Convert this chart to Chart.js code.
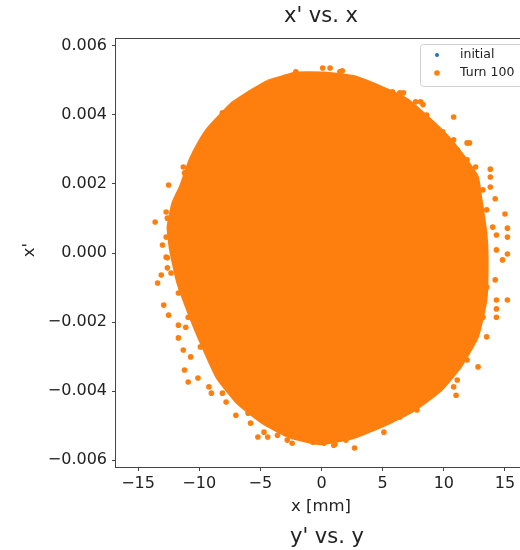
<!DOCTYPE html>
<html>
<head>
<meta charset="utf-8">
<script src="https://cdn.jsdelivr.net/npm/chart.js@4/dist/chart.umd.min.js"></script>
<style>
  html, body { margin: 0; padding: 0; overflow: hidden; background: #fff; }
  canvas { display: block; }
</style>
</head>
<body>
<canvas id="myChart" width="540" height="550"></canvas>
<script>
let xTicks = [-15, -10, -5, 0, 5, 10, 15];
let yTicks = [-0.006, -0.004, -0.002, 0, 0.002, 0.004, 0.006];

// blue "initial" markers are fully hidden under the orange cloud
let initialX = [];
let initialY = [];

// dense core of the Turn 100 cloud (outline)
let coreX = [-4.4, -2.1, 0.2, 2.6, 4.8, 7.0, 8.6, 10.3, 11.6, 12.7, 13.0, 13.4, 13.5, 13.4, 12.7, 11.3, 9.7, 7.5, 5.4, 2.6, -0.1, -2.5, -4.7, -6.8, -8.5, -9.9, -10.9, -11.7, -12.3, -12.5, -12.1, -11.5, -10.7, -10.0, -9.2, -7.4, -5.8];
let coreY = [0.00496, 0.0052, 0.0052, 0.0051, 0.0048, 0.00443, 0.00394, 0.00336, 0.00278, 0.0022, 0.00154, 0.00058, -0.0002, -0.00136, -0.00243, -0.0033, -0.00397, -0.00455, -0.00493, -0.00533, -0.00551, -0.00533, -0.00493, -0.00435, -0.0036, -0.00252, -0.00165, -0.00087, 0.00009, 0.00075, 0.00145, 0.00191, 0.0027, 0.00319, 0.00362, 0.00429, 0.00467];

// loose particles around the edge
let haloX = [-13.6, -12.7, -13.0, -12.6, -12.6, -13.4, -12.9, -12.5, -11.7, -11.1, 13.8, 13.8, 14.2, 15.0, 15.2, 15.2, 14.3, 14.3, 14.8, 15.2, 15.2, 14.3, 14.3, 14.3, 12.8, -2.1, 0.1, 1.7, 6.4, 8.3, 10.8, 7.7, -8.0, 12.1, -12.5, -11.3, -8.1, -2.4, -0.7, 0.2, 1.1, 2.7, 2.0, -10.9, -10.1, -9.0, -7.0, -5.2, -4.4, 11.0, 1.0,
  -12.7, -13.1, -12.3, -11.7, -10.9, -11.7, -11.3, -10.7, -9.9, -11.2, -9.2, -8.1, -7.8, -6.0, -5.8, -4.7, -3.6, -2.8,
  8.1, 8.6, 9.3, 9.9, 10.8, 11.9, 11.1, 11.9, 12.6, 13.2, 13.8, 13.5, 14.0, 6.7, 5.8, 3.4, 1.5, 0.7,
  -5.8, -8.1, -8.4, -10.5, -11.2, -11.7, -12.6, -12.7,
  14.2, 13.5, 13.2, 13.5, 11.9, 11.1, 10.8, 9.5, 7.8, 6.4, 5.1, 3.4, 1.5];
let haloY = [0.0009, 0.00119, 0.00023, -0.00014, -0.00043, -0.00087, -0.00151, -0.0018, -0.00209, -0.00215, 0.00243, 0.0022, 0.00157, 0.00113, 0.00072, 0.00046, 0.00052, 0.00009, -0.0002, -0.00003, -0.00136, -0.00136, -0.00162, -0.00186, -0.0033, 0.00525, 0.00536, 0.00528, 0.00464, 0.0043, 0.00394, 0.00438, 0.004, 0.00319, 0.00197, 0.00249, 0.00406, -0.00551, -0.00548, -0.00551, -0.00554, -0.00565, -0.00542, -0.00374, -0.00362, -0.00406, -0.0047, -0.00533, -0.00533, -0.00412, -0.00557,
  -0.00012, -0.00064, -0.00058, -0.00116, -0.00186, -0.00246, -0.00281, -0.00301, -0.00272, -0.00339, -0.00388, -0.00406, -0.00432, -0.00464, -0.00493, -0.00519, -0.00528, -0.00542,
  0.00438, 0.004, 0.00365, 0.00351, 0.00328, 0.00319, 0.00299, 0.0027, 0.00249, 0.00183, 0.00191, 0.00125, 0.00075, 0.00464, 0.00467, 0.00487, 0.00525, 0.00536,
  0.00464, 0.00394, 0.00386, 0.0027, 0.00232, 0.00168, 0.00101, 0.00046,
  -0.00078, -0.00099, -0.00186, -0.00243, -0.0031, -0.00368, -0.00388, -0.00397, -0.00455, -0.00475, -0.00519, -0.00504, -0.00533];

let blue = '#1f77b4';
let orange = '#ff7f0e';
let font = 'DejaVu Sans';

function pts(xs, ys) {
  return xs.map((x, i) => ({ x: x, y: ys[i] }));
}
let corePts = pts(coreX, coreY);
corePts.push(corePts[0]);

let decor = {
  id: 'decor',
  afterDatasetsDraw(chart) {
    let ctx = chart.ctx;
    let a = chart.chartArea;
    ctx.save();
    // frame
    ctx.strokeStyle = '#444';
    ctx.lineWidth = 1;
    ctx.strokeRect(a.left - 0.5, a.top - 0.5, a.right - a.left + 1, a.bottom - a.top + 1);
    // legend box
    ctx.fillStyle = 'rgba(255,255,255,0.8)';
    ctx.strokeStyle = '#d0d0d0';
    ctx.beginPath();
    ctx.roundRect(420.5, 44.5, 105, 42, 3);
    ctx.fill();
    ctx.stroke();
    ctx.fillStyle = blue;
    ctx.beginPath(); ctx.arc(437, 55, 2, 0, Math.PI * 2); ctx.fill();
    ctx.fillStyle = orange;
    ctx.beginPath(); ctx.arc(437, 73, 2.8, 0, Math.PI * 2); ctx.fill();
    ctx.fillStyle = '#222';
    ctx.font = '12.5px "' + font + '"';
    ctx.textAlign = 'left';
    ctx.textBaseline = 'middle';
    ctx.fillText('initial', 460, 55);
    ctx.fillText('Turn 100', 460, 73);
    // titles and axis labels
    ctx.textAlign = 'center';
    ctx.font = '21px "' + font + '"';
    ctx.fillText("x' vs. x", 321, 17);
    ctx.textBaseline = 'alphabetic';
    ctx.fillText("y' vs. y", 327, 543);
    ctx.textBaseline = 'middle';
    ctx.font = '16.5px "' + font + '"';
    ctx.fillText('x [mm]', 321, 507);
    ctx.translate(30, 250);
    ctx.rotate(-Math.PI / 2);
    ctx.fillText("x'", 0, 0);
    ctx.restore();
  }
};

let ctx1 = document.getElementById('myChart').getContext('2d');
let myChart = new Chart(ctx1, {
  type: 'scatter',
  data: {
    datasets: [
      {
        label: 'initial',
        data: pts(initialX, initialY),
        backgroundColor: blue,
        pointRadius: 2,
        borderWidth: 0
      },
      {
        label: 'Turn 100 core',
        data: corePts,
        showLine: true,
        fill: 'shape',
        backgroundColor: orange,
        borderColor: orange,
        borderWidth: 4,
        borderJoinStyle: 'round',
        pointRadius: 0,
        tension: 0.15
      },
      {
        label: 'Turn 100',
        data: pts(haloX, haloY),
        backgroundColor: orange,
        pointRadius: 2.8,
        borderWidth: 0
      }
    ]
  },
  options: {
    responsive: false,
    animation: false,
    layout: {
      padding: { top: 39, right: 13, left: 0, bottom: 0 }
    },
    plugins: {
      legend: { display: false },
      tooltip: { enabled: false }
    },
    scales: {
      x: {
        type: 'linear',
        min: -16.8,
        max: 16.8,
        afterBuildTicks: (s) => { s.ticks = xTicks.map(v => ({ value: v })); },
        afterFit: (s) => { s.height = 83; },
        grid: { drawOnChartArea: false, drawTicks: true, tickLength: 4, color: '#444' },
        border: { display: false },
        ticks: {
          color: '#222',
          padding: 3,
          maxRotation: 0,
          font: { family: font, size: 16 },
          callback: (v) => String(v).replace('-', '\u2212')
        }
      },
      y: {
        type: 'linear',
        min: -0.0062,
        max: 0.0062,
        afterBuildTicks: (s) => { s.ticks = yTicks.map(v => ({ value: v })); },
        afterFit: (s) => { s.width = 116; },
        grid: { drawOnChartArea: false, drawTicks: true, tickLength: 4, color: '#444' },
        border: { display: false },
        ticks: {
          color: '#222',
          padding: 5,
          font: { family: font, size: 16 },
          callback: (v) => v.toFixed(3).replace('-', '\u2212')
        }
      }
    }
  },
  plugins: [decor]
});
</script>
</body>
</html>
